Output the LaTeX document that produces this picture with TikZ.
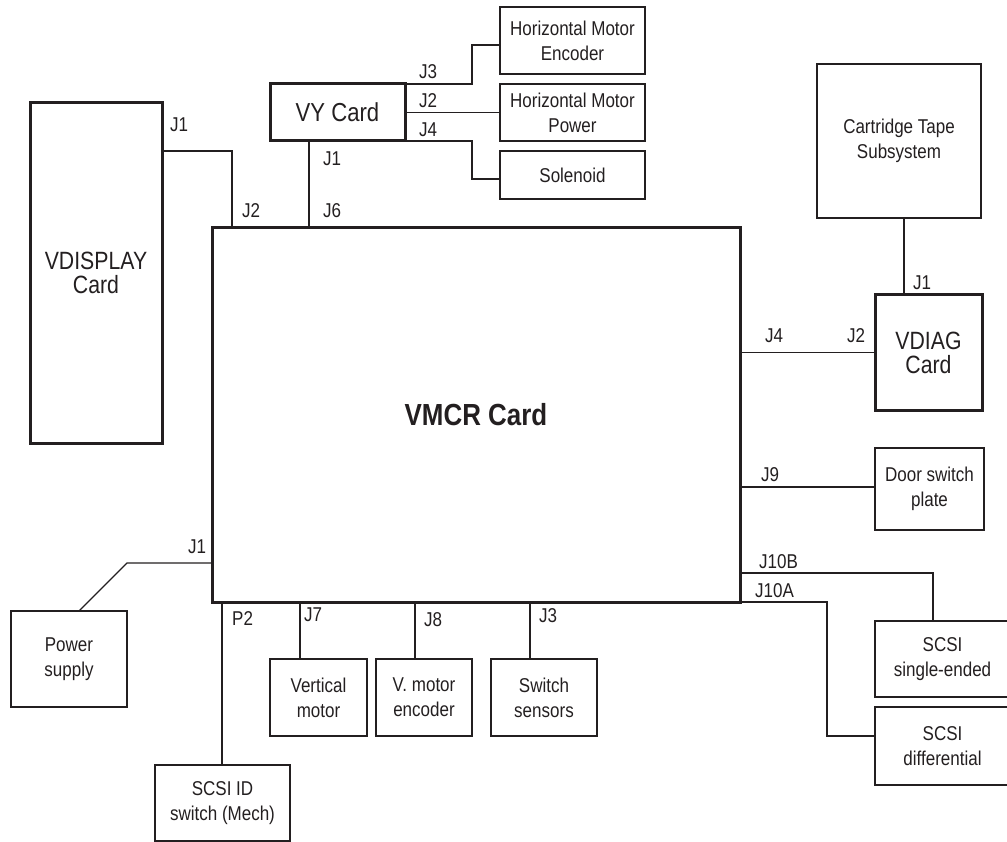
\documentclass[tikz,border=0pt]{standalone}
\usepackage{fontspec}
\setmainfont{Liberation Sans}[FakeStretch=0.85]
\usetikzlibrary{calc}
\definecolor{ink}{HTML}{231F20}
\tikzset{
  base/.style={rectangle, draw=ink, text=ink, inner sep=0pt, outer sep=0pt, align=center},
  thinbox/.style={base, line width=1.5pt, font=\fontsize{20}{25}\selectfont},
  thickbox/.style={base, line width=3pt, font=\fontsize{25}{24}\selectfont},
  wire/.style={draw=ink, line width=1.3pt},
  jlab/.style={anchor=base west, inner sep=0pt, text=ink, font=\fontsize{20}{24}\selectfont},
}
% name, x1, y1, x2, y2, style, text
\newcommand\placebox[7]{%
  \node[#6, minimum width={#4pt-#2pt}, minimum height={#5pt-#3pt}]
    (#1) at ({(#2+#4)/2},{(#3+#5)/2}) {#7};}
\begin{document}
\begin{tikzpicture}[x=1pt,y=-1pt]
\useasboundingbox (0,0) rectangle (1007,842);

% main cards
\placebox{vmcr}{212}{228}{740}{602}{thickbox}{\fontsize{30.5}{30}\selectfont\bfseries VMCR Card}
\placebox{vdisp}{30}{103}{162}{443}{thickbox}{}
\node[text=ink, align=center, font=\fontsize{25}{24}\selectfont, anchor=base] (vdisptxt) at (96,294) {VDISPLAY\\Card};
\placebox{vy}{270}{84}{405}{141}{thickbox}{\fontsize{26}{26}\selectfont VY Card}
\placebox{vdiag}{875}{295}{982}{410}{thickbox}{VDIAG\\Card}

% peripheral boxes
\placebox{hme}{500}{7}{645}{74}{thinbox}{Horizontal Motor\\Encoder}
\placebox{hmp}{500}{84}{645}{141}{thinbox}{Horizontal Motor\\Power}
\placebox{sol}{500}{151}{645}{199}{thinbox}{Solenoid}
\placebox{cart}{817}{64}{981}{218}{thinbox}{Cartridge Tape\\Subsystem}
\placebox{door}{875}{448}{984}{530}{thinbox}{Door switch\\plate}
\placebox{scsise}{875}{621}{1010}{697}{thinbox}{SCSI\\single-ended}
\placebox{scsidi}{875}{707}{1010}{785}{thinbox}{SCSI\\differential}
\placebox{power}{11}{611}{127}{707}{thinbox}{Power\\supply}
\placebox{scsiid}{155}{765}{290}{841}{thinbox}{SCSI ID\\switch (Mech)}
\placebox{vmot}{270}{659}{367}{736}{thinbox}{Vertical\\motor}
\placebox{venc}{376}{659}{472}{736}{thinbox}{V. motor\\encoder}
\placebox{sws}{491}{659}{597}{736}{thinbox}{Switch\\sensors}

% bend points
\coordinate (c1) at (232,151);
\coordinate (c2) at (309,141);
\coordinate (c3) at (472,45);
\coordinate (c4) at (472,179);
\coordinate (c5) at (904,218);
\coordinate (c6) at (212,563);
\coordinate (c7) at (127,563);
\coordinate (c8) at (79,611);
\coordinate (c9) at (222,602);
\coordinate (c10) at (300,602);
\coordinate (c11) at (415,602);
\coordinate (c12) at (530,602);
\coordinate (c13) at (933,573);
\coordinate (c14) at (827,602);
\coordinate (c15) at (827,736);
\coordinate (c16) at (875,487);

% connectors
\draw[wire] (vdisp.east |- c1) -- (c1) -- (c1 |- vmcr.north);
\draw[wire] (c2) -- (c2 |- vmcr.north);
\draw[wire] (vy.north east) -| (c3) -- (c3 -| hme.west);
\draw[wire] (vy.east) -- (hmp.west);
\draw[wire] (vy.south east) -| (c4) -- (c4 -| sol.west);
\draw[wire] (c5) -- (c5 |- vdiag.north);
\draw[wire] (vdiag.west -| vmcr.east) -- (vdiag.west);
\draw[wire] (vmcr.east |- c16) -- (c16 -| door.west);
\draw[wire] (vmcr.east |- c13) -- (c13) -- (c13 |- scsise.north);
\draw[wire] (vmcr.south east) -- (c14) -- (c15) -- (c15 -| scsidi.west);
\draw[wire] (c6) -- (c7) -- (c8);
\draw[wire] (c9) -- (c9 |- scsiid.north);
\draw[wire] (c10) -- (c10 |- vmot.north);
\draw[wire] (c11) -- (c11 |- venc.north);
\draw[wire] (c12) -- (c12 |- sws.north);

% connector labels
\node[jlab] (l1) at (170,132) {J1};
\node[jlab] (l2) at (242,218) {J2};
\node[jlab] (l3) at (323,218) {J6};
\node[jlab] (l4) at (323,166) {J1};
\node[jlab] (l5) at (419,79) {J3};
\node[jlab] (l6) at (419,108) {J2};
\node[jlab] (l7) at (419,137) {J4};
\node[jlab] (l8) at (913,290) {J1};
\node[jlab] (l9) at (765,343) {J4};
\node[jlab] (l10) at (847,343) {J2};
\node[jlab] (l11) at (761,481) {J9};
\node[jlab] (l12) at (759,568) {J10B};
\node[jlab] (l13) at (755,597) {J10A};
\node[jlab] (l14) at (188,553) {J1};
\node[jlab] (l15) at (232,625) {P2};
\node[jlab] (l16) at (304,621) {J7};
\node[jlab] (l17) at (424,626) {J8};
\node[jlab] (l18) at (539,622) {J3};
\end{tikzpicture}
\end{document}
